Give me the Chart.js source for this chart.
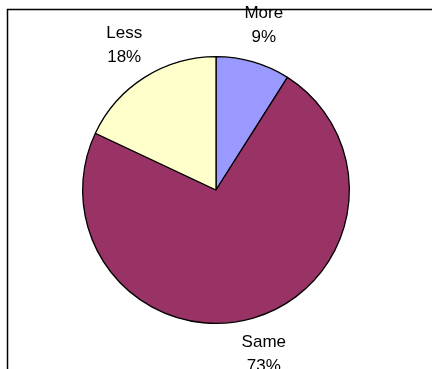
<!DOCTYPE html>
<html>
<head>
<meta charset="utf-8">
<script src="https://cdn.jsdelivr.net/npm/chart.js@4/dist/chart.umd.min.js"></script>
<style>
  html, body { margin: 0; padding: 0; background: #ffffff; }
  #wrap { width: 432px; height: 369px; position: relative; }
</style>
</head>
<body>
<div id="wrap"><canvas id="pie" width="432" height="369"></canvas></div>
<script>
// Answer categories and their shares (percent)
const categories = ['More', 'Same', 'Less'];
const shares = [9, 73, 18];
const sliceColors = ['#9999FF', '#993366', '#FFFFCC'];

// Frame drawn along the top and left edges of the plot
const framePlugin = {
  id: 'frame',
  beforeDraw(chart) {
    const ctx = chart.ctx;
    ctx.save();
    ctx.strokeStyle = '#000000';
    ctx.lineWidth = 1.5;
    ctx.beginPath();
    ctx.moveTo(chart.width, 9.5);
    ctx.lineTo(7.5, 9.5);
    ctx.lineTo(7.5, chart.height);
    ctx.stroke();
    ctx.restore();
  }
};

// Two-line labels (name + percent) placed outside each slice
const outsideLabels = {
  id: 'outsideLabels',
  afterDatasetsDraw(chart) {
    const ctx = chart.ctx;
    const meta = chart.getDatasetMeta(0);
    const data = chart.data.datasets[0].data;
    const total = data.reduce((a, b) => a + b, 0);
    ctx.save();
    ctx.fillStyle = '#000000';
    ctx.font = '17px "Liberation Sans", Arial, sans-serif';
    ctx.textAlign = 'center';
    ctx.textBaseline = 'middle';
    meta.data.forEach((arc, i) => {
      const p = arc.getProps(['x', 'y', 'startAngle', 'endAngle', 'outerRadius'], true);
      const mid = (p.startAngle + p.endAngle) / 2;
      const dist = p.outerRadius + 38;
      const cx = p.x + Math.cos(mid) * dist;
      const cy = p.y + Math.sin(mid) * dist;
      const pct = Math.round(data[i] / total * 100) + '%';
      ctx.fillText(chart.data.labels[i], cx, cy - 12);
      ctx.fillText(pct, cx, cy + 12);
    });
    ctx.restore();
  }
};

new Chart(document.getElementById('pie'), {
  type: 'pie',
  data: {
    labels: categories,
    datasets: [{
      data: shares,
      backgroundColor: sliceColors,
      borderColor: '#000000',
      borderWidth: 1.3
    }]
  },
  options: {
    responsive: false,
    animation: false,
    layout: { padding: { top: 56, bottom: 45, left: 82, right: 82 } },
    plugins: {
      legend: { display: false },
      tooltip: { enabled: false }
    }
  },
  plugins: [framePlugin, outsideLabels]
});
</script>
</body>
</html>
